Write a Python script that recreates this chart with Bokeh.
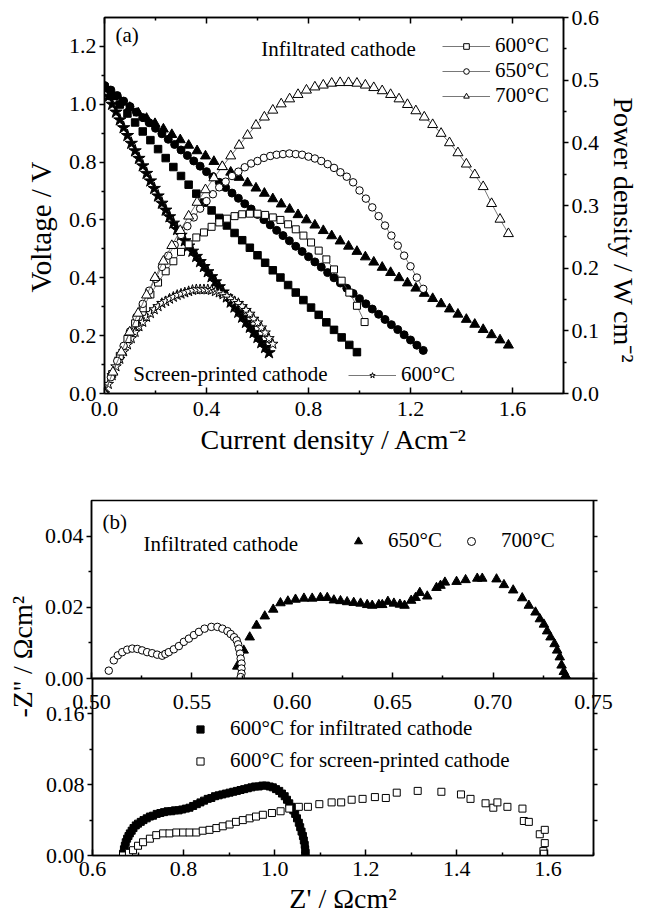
from bokeh.plotting import figure
from bokeh.models import (Range1d, LinearAxis, FixedTicker, Legend, LegendItem,
                          Label, Title, PrintfTickFormatter)
from bokeh.layouts import column
from bokeh.embed import file_html
from bokeh.resources import INLINE

FONT = "Liberation Serif"

# ---------------- panel (a): I-V and I-P curves ----------------
I600 = [0.00, 0.03, 0.06, 0.09, 0.12, 0.15, 0.18, 0.21, 0.24, 0.27, 0.30, 0.33,
        0.36, 0.39, 0.42, 0.45, 0.48, 0.51, 0.54, 0.57, 0.60, 0.63, 0.66, 0.69,
        0.72, 0.75, 0.78, 0.81, 0.84, 0.87, 0.90, 0.93, 0.96, 0.99]
V600 = [1.060, 1.029, 0.999, 0.968, 0.937, 0.906, 0.876, 0.845, 0.814, 0.783,
        0.752, 0.722, 0.691, 0.660, 0.633, 0.607, 0.581, 0.555, 0.530, 0.504,
        0.478, 0.452, 0.426, 0.401, 0.375, 0.349, 0.323, 0.297, 0.272, 0.246,
        0.220, 0.194, 0.168, 0.143]
I600_P = [0.00, 0.03, 0.06, 0.09, 0.12, 0.15, 0.18, 0.21, 0.24, 0.27, 0.30, 0.33,
          0.36, 0.39, 0.42, 0.45, 0.48, 0.51, 0.54, 0.57, 0.60, 0.63, 0.66, 0.69,
          0.72, 0.75, 0.78, 0.81, 0.84, 0.87, 0.90, 0.93, 0.96, 0.99, 1.02]
P600 = [0.000, 0.031, 0.060, 0.087, 0.112, 0.136, 0.158, 0.177, 0.195, 0.211,
        0.226, 0.238, 0.249, 0.257, 0.266, 0.273, 0.279, 0.283, 0.286, 0.287,
        0.287, 0.285, 0.281, 0.277, 0.270, 0.262, 0.252, 0.241, 0.228, 0.214,
        0.198, 0.180, 0.161, 0.140, 0.114]

I650 = [0.000, 0.025, 0.050, 0.075, 0.100, 0.125, 0.150, 0.175, 0.200, 0.225,
        0.250, 0.275, 0.300, 0.325, 0.350, 0.375, 0.400, 0.425, 0.450, 0.475,
        0.500, 0.525, 0.550, 0.575, 0.600, 0.625, 0.650, 0.675, 0.700, 0.725,
        0.750, 0.775, 0.800, 0.825, 0.850, 0.875, 0.900, 0.925, 0.950, 0.975,
        1.000, 1.025, 1.050, 1.075, 1.100, 1.125, 1.150, 1.175, 1.200, 1.225,
        1.250]
V650 = [1.065, 1.049, 1.030, 1.011, 0.992, 0.973, 0.954, 0.936, 0.917, 0.898,
        0.879, 0.861, 0.842, 0.823, 0.804, 0.786, 0.767, 0.749, 0.730, 0.712,
        0.693, 0.675, 0.656, 0.638, 0.619, 0.601, 0.583, 0.564, 0.546, 0.528,
        0.509, 0.491, 0.473, 0.455, 0.437, 0.418, 0.400, 0.382, 0.364, 0.346,
        0.328, 0.310, 0.292, 0.274, 0.256, 0.238, 0.221, 0.203, 0.185, 0.167,
        0.149]
P650 = [0.000, 0.026, 0.052, 0.076, 0.099, 0.122, 0.143, 0.164, 0.183, 0.202,
        0.220, 0.237, 0.253, 0.267, 0.281, 0.295, 0.307, 0.318, 0.329, 0.338,
        0.347, 0.354, 0.361, 0.367, 0.371, 0.376, 0.379, 0.381, 0.382, 0.383,
        0.382, 0.381, 0.378, 0.375, 0.371, 0.366, 0.360, 0.353, 0.346, 0.337,
        0.324, 0.311, 0.297, 0.283, 0.268, 0.252, 0.236, 0.220, 0.203, 0.185,
        0.167]

I700 = [0.000, 0.033, 0.066, 0.099, 0.132, 0.165, 0.198, 0.231, 0.264, 0.297,
        0.330, 0.363, 0.396, 0.429, 0.462, 0.495, 0.528, 0.561, 0.594, 0.627,
        0.660, 0.693, 0.726, 0.759, 0.792, 0.825, 0.858, 0.891, 0.924, 0.957,
        0.990, 1.023, 1.056, 1.089, 1.122, 1.155, 1.188, 1.221, 1.254, 1.287,
        1.320, 1.353, 1.386, 1.419, 1.452, 1.485, 1.518, 1.551, 1.584]
V700 = [1.055, 1.026, 1.007, 0.989, 0.970, 0.951, 0.933, 0.914, 0.895, 0.877,
        0.858, 0.839, 0.821, 0.802, 0.784, 0.765, 0.747, 0.728, 0.710, 0.692,
        0.673, 0.655, 0.637, 0.618, 0.600, 0.582, 0.563, 0.545, 0.527, 0.509,
        0.491, 0.472, 0.454, 0.436, 0.418, 0.400, 0.382, 0.364, 0.346, 0.328,
        0.310, 0.292, 0.274, 0.256, 0.239, 0.221, 0.203, 0.185, 0.167]
P700 = [0.000, 0.034, 0.066, 0.098, 0.128, 0.157, 0.185, 0.211, 0.236, 0.260,
        0.283, 0.305, 0.325, 0.344, 0.362, 0.379, 0.396, 0.412, 0.428, 0.441,
        0.452, 0.462, 0.470, 0.477, 0.484, 0.489, 0.492, 0.495, 0.496, 0.496,
        0.495, 0.492, 0.488, 0.483, 0.477, 0.470, 0.461, 0.451, 0.441, 0.429,
        0.415, 0.400, 0.384, 0.366, 0.349, 0.330, 0.303, 0.278, 0.255]

ISP = [0.000, 0.015, 0.030, 0.045, 0.060, 0.075, 0.090, 0.105, 0.120, 0.135,
       0.150, 0.165, 0.180, 0.195, 0.210, 0.225, 0.240, 0.255, 0.270, 0.285,
       0.300, 0.315, 0.330, 0.345, 0.360, 0.375, 0.390, 0.405, 0.420, 0.435,
       0.450, 0.465, 0.480, 0.495, 0.510, 0.525, 0.540, 0.555, 0.570, 0.585,
       0.600, 0.615, 0.630, 0.645]
VSP = [1.055, 1.027, 1.000, 0.973, 0.946, 0.919, 0.892, 0.865, 0.839, 0.813,
       0.787, 0.761, 0.735, 0.709, 0.683, 0.658, 0.634, 0.611, 0.589, 0.567,
       0.547, 0.528, 0.510, 0.492, 0.474, 0.456, 0.439, 0.421, 0.404, 0.386,
       0.369, 0.351, 0.334, 0.316, 0.299, 0.281, 0.264, 0.246, 0.229, 0.211,
       0.194, 0.176, 0.159, 0.141]
ISP_P = [0.000, 0.015, 0.030, 0.045, 0.060, 0.075, 0.090, 0.105, 0.120, 0.135,
         0.150, 0.165, 0.180, 0.195, 0.210, 0.225, 0.240, 0.255, 0.270, 0.285,
         0.300, 0.315, 0.330, 0.345, 0.360, 0.375, 0.390, 0.405, 0.420, 0.435,
         0.450, 0.465, 0.480, 0.495, 0.510, 0.525, 0.540, 0.555, 0.570, 0.585,
         0.600, 0.615, 0.630, 0.645, 0.660]
PSP = [0.000, 0.015, 0.029, 0.043, 0.055, 0.067, 0.078, 0.088, 0.098, 0.107,
       0.114, 0.122, 0.128, 0.134, 0.139, 0.144, 0.147, 0.151, 0.154, 0.157,
       0.159, 0.161, 0.163, 0.165, 0.166, 0.166, 0.166, 0.166, 0.165, 0.163,
       0.161, 0.158, 0.155, 0.151, 0.147, 0.144, 0.139, 0.133, 0.127, 0.119,
       0.113, 0.105, 0.097, 0.088, 0.079]

A_X_TICKS = [0.0, 0.4, 0.8, 1.2, 1.6]
A_X_MINOR = [0.2, 0.6, 1.0, 1.4, 1.8]
A_YL_TICKS = [0.0, 0.2, 0.4, 0.6, 0.8, 1.0, 1.2]
A_YL_MINOR = [0.1, 0.3, 0.5, 0.7, 0.9, 1.1]
A_YR_TICKS = [0.0, 0.1, 0.2, 0.3, 0.4, 0.5, 0.6]
A_YR_MINOR = [0.05, 0.15, 0.25, 0.35, 0.45, 0.55]

# ---------------- panel (b): impedance spectra ----------------
Z650_RE = [0.5726, 0.5758, 0.5788, 0.5822, 0.5863, 0.5905, 0.5941, 0.5978, 0.6016,
           0.6058, 0.6099, 0.6140, 0.6174, 0.6207, 0.6240, 0.6273, 0.6306, 0.6340,
           0.6373, 0.6398, 0.6431, 0.6448, 0.6476, 0.6506, 0.6536, 0.6559, 0.6592,
           0.6614, 0.6635, 0.6672, 0.6718, 0.6738, 0.6760, 0.6818, 0.6863, 0.6921,
           0.6946, 0.7017, 0.7054, 0.7100, 0.7145, 0.7178, 0.7211, 0.7233, 0.7253,
           0.7269, 0.7286, 0.7306, 0.7319, 0.7332, 0.7341, 0.7352, 0.7361]
Z650_IM = [0.0034, 0.0079, 0.0116, 0.0149, 0.0175, 0.0194, 0.0212, 0.0217, 0.0222,
           0.0225, 0.0225, 0.0227, 0.0227, 0.0220, 0.0218, 0.0215, 0.0213, 0.0211,
           0.0207, 0.0205, 0.0207, 0.0207, 0.0216, 0.0211, 0.0208, 0.0205, 0.0219,
           0.0227, 0.0241, 0.0231, 0.0255, 0.0261, 0.0270, 0.0272, 0.0277, 0.0281,
           0.0281, 0.0279, 0.0263, 0.0248, 0.0226, 0.0205, 0.0186, 0.0167, 0.0152,
           0.0133, 0.0116, 0.0097, 0.0079, 0.0060, 0.0037, 0.0019, 0.0009]
Z700_RE = [0.5086, 0.5111, 0.5131, 0.5153, 0.5178, 0.5203, 0.5228, 0.5252, 0.5277,
           0.5302, 0.5327, 0.5352, 0.5368, 0.5385, 0.5410, 0.5435, 0.5460, 0.5485,
           0.5510, 0.5535, 0.5563, 0.5597, 0.5627, 0.5652, 0.5677, 0.5693, 0.5710,
           0.5723, 0.5730, 0.5735, 0.5740, 0.5743, 0.5747, 0.5747, 0.5747, 0.5743]
Z700_IM = [0.0022, 0.0051, 0.0065, 0.0074, 0.0081, 0.0084, 0.0083, 0.0079, 0.0074,
           0.0071, 0.0067, 0.0064, 0.0069, 0.0074, 0.0082, 0.0091, 0.0103, 0.0112,
           0.0122, 0.0131, 0.0140, 0.0145, 0.0145, 0.0140, 0.0133, 0.0125, 0.0116,
           0.0107, 0.0096, 0.0084, 0.0070, 0.0056, 0.0042, 0.0028, 0.0014, 0.0004]

Z600I_RE = [0.667, 0.669, 0.671, 0.673, 0.676, 0.679, 0.682, 0.686, 0.690, 0.695,
            0.700, 0.706, 0.712, 0.719, 0.726, 0.733, 0.741, 0.749, 0.757, 0.765,
            0.773, 0.781, 0.789, 0.797, 0.805, 0.813, 0.821, 0.829, 0.837, 0.845,
            0.853, 0.861, 0.869, 0.877, 0.885, 0.893, 0.901, 0.909, 0.917, 0.925,
            0.933, 0.941, 0.949, 0.957, 0.965, 0.973, 0.981, 0.989, 0.996, 1.003,
            1.010, 1.016, 1.022, 1.027, 1.032, 1.037, 1.041, 1.045, 1.049, 1.053,
            1.056, 1.059, 1.062, 1.064, 1.066, 1.067, 1.068, 1.067]
Z600I_IM = [0.002, 0.007, 0.011, 0.015, 0.019, 0.022, 0.025, 0.028, 0.031, 0.034,
            0.036, 0.038, 0.040, 0.042, 0.044, 0.045, 0.047, 0.048, 0.049, 0.050,
            0.050, 0.051, 0.051, 0.052, 0.053, 0.054, 0.056, 0.058, 0.060, 0.062,
            0.064, 0.065, 0.067, 0.068, 0.069, 0.070, 0.071, 0.072, 0.073, 0.074,
            0.075, 0.076, 0.077, 0.078, 0.078, 0.079, 0.079, 0.078, 0.077, 0.075,
            0.073, 0.070, 0.067, 0.063, 0.059, 0.055, 0.051, 0.047, 0.042, 0.037,
            0.032, 0.027, 0.022, 0.017, 0.012, 0.007, 0.003, 0.000]
Z600S_RE = [0.667, 0.680, 0.689, 0.700, 0.711, 0.726, 0.740, 0.755, 0.769, 0.784,
            0.799, 0.813, 0.828, 0.842, 0.857, 0.872, 0.886, 0.901, 0.915, 0.930,
            0.945, 0.959, 0.974, 0.994, 1.013, 1.032, 1.053, 1.073, 1.098, 1.125,
            1.146, 1.169, 1.193, 1.220, 1.244, 1.268, 1.314, 1.366, 1.409, 1.430,
            1.463, 1.480, 1.489, 1.511, 1.544, 1.547, 1.558, 1.582, 1.593, 1.593,
            1.590, 1.591]
Z600S_IM = [0.000, 0.003, 0.006, 0.011, 0.015, 0.019, 0.023, 0.025, 0.025, 0.026,
            0.026, 0.026, 0.026, 0.028, 0.029, 0.031, 0.033, 0.035, 0.038, 0.040,
            0.042, 0.044, 0.046, 0.048, 0.050, 0.053, 0.055, 0.055, 0.058, 0.060,
            0.060, 0.063, 0.064, 0.066, 0.065, 0.071, 0.073, 0.072, 0.069, 0.064,
            0.059, 0.054, 0.060, 0.055, 0.053, 0.039, 0.038, 0.024, 0.029, 0.014,
            0.005, 0.002]

B1_X_TICKS = [0.50, 0.55, 0.60, 0.65, 0.70, 0.75]
B1_X_MINOR = [0.525, 0.575, 0.625, 0.675, 0.725]
B1_Y_TICKS = [0.00, 0.02, 0.04]
B1_Y_MINOR = [0.01, 0.03]
B1_YR_TICKS = [0.00, 0.01, 0.02, 0.03, 0.04, 0.05]
B2_X_TICKS = [0.6, 0.8, 1.0, 1.2, 1.4, 1.6]
B2_X_MINOR = [0.7, 0.9, 1.1, 1.3, 1.5, 1.7]
B2_Y_TICKS = [0.00, 0.08, 0.16]
B2_Y_MINOR = [0.04, 0.12]
B2_YR_TICKS = [0.04, 0.08, 0.12, 0.16]

TICK_SIZE = "22px"
TEXT_SIZE = "21px"


def style_axis(ax, ticks, minor, fmt, t_in, t_out, m_in, m_out,
               labels=True, standoff=3):
    ax.ticker = FixedTicker(ticks=ticks, minor_ticks=minor)
    ax.formatter = PrintfTickFormatter(format=fmt)
    ax.major_tick_in = t_in
    ax.major_tick_out = t_out
    ax.minor_tick_in = m_in
    ax.minor_tick_out = m_out
    for attr in ("axis_line", "major_tick_line", "minor_tick_line"):
        setattr(ax, attr + "_width", 1.5)
        setattr(ax, attr + "_color", "black")
    ax.major_label_text_font = FONT
    if labels:
        ax.major_label_text_font_size = TICK_SIZE
        ax.major_label_text_color = "black"
        ax.major_label_standoff = standoff
    else:
        ax.major_label_text_font_size = "0px"
        ax.major_label_text_color = None
        ax.major_label_standoff = 0
    ax.axis_label_text_font = FONT
    ax.axis_label_text_font_size = "28px"
    ax.axis_label_text_font_style = "normal"
    ax.axis_label_text_color = "black"


def side_title(p, text, place, offset, size="29px", standoff=10):
    t = Title(text=text, align="left", offset=offset, standoff=standoff,
              text_font=FONT, text_font_size=size, text_font_style="normal",
              text_color="black")
    p.add_layout(t, place)


def base_fig(**kw):
    p = figure(output_backend="svg", toolbar_location=None, frame_align=False, **kw)
    p.xgrid.visible = False
    p.ygrid.visible = False
    p.outline_line_color = "black"
    p.outline_line_width = 1.5
    p.outline_line_alpha = 1.0
    return p


def style_legend(leg, gw, gh, standoff, spacing, orientation="vertical"):
    leg.orientation = orientation
    leg.label_text_font = FONT
    leg.label_text_font_size = TEXT_SIZE
    leg.label_text_color = "black"
    leg.glyph_width = gw
    leg.glyph_height = gh
    leg.label_height = 24
    leg.label_standoff = standoff
    leg.spacing = spacing
    leg.padding = 5
    leg.margin = 0
    leg.border_line_color = None
    leg.background_fill_alpha = 0


def text_label(p, x, y, text, size=TEXT_SIZE, **kw):
    lab = Label(x=x, y=y, text=text, text_font=FONT, text_font_size=size,
                text_color="black", text_baseline="middle", **kw)
    p.add_layout(lab)


# ================= panel (a) =================
pa = base_fig(width=645, height=470, x_range=Range1d(0, 1.8), y_range=Range1d(0, 1.3),
              min_border_left=104, min_border_right=80, min_border_top=17,
              min_border_bottom=77)
pa.extra_y_ranges = {"power": Range1d(0, 0.6)}

xa = pa.xaxis[0]
style_axis(xa, A_X_TICKS, A_X_MINOR, "%.1f", 6, 0, 3, 0, standoff=8)
xa.axis_label = "Current density / Acm⁻²"
xa.axis_label_standoff = 5

ya = pa.yaxis[0]
style_axis(ya, A_YL_TICKS, A_YL_MINOR, "%.1f", 0, 5, 0, 3, standoff=3)

ra = LinearAxis(y_range_name="power")
style_axis(ra, A_YR_TICKS, A_YR_MINOR, "%.1f", 0, 5, 0, 3, standoff=3)
pa.add_layout(ra, "right")

ta = LinearAxis()
style_axis(ta, A_X_TICKS, A_X_MINOR, "%.1f", 6, 0, 3, 0, labels=False)
pa.add_layout(ta, "above")

side_title(pa, "Voltage / V", "left", 101, standoff=17)
side_title(pa, "Power density / W cm⁻²", "right", 80, size="28px")

mk = dict(fill_color="black", line_color="black")
pa.scatter(I600, V600, marker="square", size=7.5, **mk)
pa.scatter(I650, V650, marker="circle", size=8, **mk)
pa.scatter(I700, V700, marker="triangle", size=10, **mk)
pa.scatter(ISP, VSP, marker="star", size=13, **mk)

op = dict(fill_color="white", line_color="black", line_width=1, y_range_name="power")
ln = dict(line_color="#555555", line_width=0.8, y_range_name="power")
l_sp = pa.line(ISP_P, PSP, **ln)
s_sp = pa.scatter(ISP_P, PSP, marker="star", size=11, **op)
l600 = pa.line(I600_P, P600, **ln)
s600 = pa.scatter(I600_P, P600, marker="square", size=7, **op)
l650 = pa.line(I650, P650, **ln)
s650 = pa.scatter(I650, P650, marker="circle", size=7.5, **op)
l700 = pa.line(I700, P700, **ln)
s700 = pa.scatter(I700, P700, marker="triangle", size=10, **op)

leg_a1 = Legend(items=[LegendItem(label="600°C", renderers=[l600, s600]),
                       LegendItem(label="650°C", renderers=[l650, s650]),
                       LegendItem(label="700°C", renderers=[l700, s700])],
                location=(338, 285))
style_legend(leg_a1, 48, 14, 5, 0)
pa.add_layout(leg_a1)

leg_a2 = Legend(items=[LegendItem(label="600°C", renderers=[l_sp, s_sp])],
                location=(244, 6))
style_legend(leg_a2, 48, 14, 5, 0)
pa.add_layout(leg_a2)

text_label(pa, 0.043, 1.238, "(a)")
text_label(pa, 0.615, 1.19, "Infiltrated cathode")
text_label(pa, 0.113, 0.066, "Screen-printed cathode")

# ================= panel (b), upper part =================
pb1 = base_fig(width=645, height=252, x_range=Range1d(0.5, 0.75), y_range=Range1d(0, 0.05),
               min_border_left=91, min_border_right=52, min_border_top=30,
               min_border_bottom=44)
style_axis(pb1.xaxis[0], B1_X_TICKS, B1_X_MINOR, "%.2f", 6, 0, 3, 0, standoff=16)
style_axis(pb1.yaxis[0], B1_Y_TICKS, B1_Y_MINOR, "%.2f", 0, 5, 0, 3, standoff=3)
rb1 = LinearAxis()
style_axis(rb1, B1_YR_TICKS, [], "%.2f", 0, 4, 0, 0, labels=False)
pb1.add_layout(rb1, "right")

t650 = pb1.scatter(Z650_RE, Z650_IM, marker="triangle", size=9.5,
                   fill_color="black", line_color="black")
c700 = pb1.scatter(Z700_RE, Z700_IM, marker="circle", size=7.5,
                   fill_color="white", line_color="black", line_width=1)
leg_b1 = Legend(items=[LegendItem(label="650°C", renderers=[t650]),
                       LegendItem(label="700°C", renderers=[c700])],
                location=(257, 125))
style_legend(leg_b1, 20, 20, 20, 19, orientation="horizontal")
pb1.add_layout(leg_b1)
text_label(pb1, 0.5055, 0.0441, "(b)")
text_label(pb1, 0.5259, 0.0379, "Infiltrated cathode")

# ================= panel (b), lower part =================
pb2 = base_fig(width=645, height=402, x_range=Range1d(0.6, 1.7), y_range=Range1d(0, 0.2),
               min_border_left=91, min_border_right=52, min_border_top=150,
               min_border_bottom=75, margin=(-194, 0, 0, 0))
pb2.border_fill_color = None
pb2.background_fill_color = None
xb2 = pb2.xaxis[0]
style_axis(xb2, B2_X_TICKS, B2_X_MINOR, "%.1f", 6, 0, 3, 0, standoff=6)
xb2.axis_label = "Z' / Ωcm²"
xb2.axis_label_standoff = 4
style_axis(pb2.yaxis[0], B2_Y_TICKS, B2_Y_MINOR, "%.2f", 0, 5, 0, 3, standoff=3)
rb2 = LinearAxis()
style_axis(rb2, B2_YR_TICKS, [], "%.2f", 0, 4, 0, 0, labels=False)
pb2.add_layout(rb2, "right")
side_title(pb2, "-Z'' / Ωcm²", "left", 138, size="28px", standoff=9)

sq_i = pb2.scatter(Z600I_RE, Z600I_IM, marker="square", size=7,
                   fill_color="black", line_color="black")
sq_s = pb2.scatter(Z600S_RE, Z600S_IM, marker="square", size=7,
                   fill_color="white", line_color="black", line_width=1)
leg_b2 = Legend(items=[LegendItem(label="600°C for infiltrated cathode", renderers=[sq_i]),
                       LegendItem(label="600°C for screen-printed cathode", renderers=[sq_s])],
                location=(98, 82))
style_legend(leg_b2, 20, 18, 20, 7)
pb2.add_layout(leg_b2)

layout = column(pa, pb1, pb2)
open("out.html", "w").write(file_html(layout, INLINE))
